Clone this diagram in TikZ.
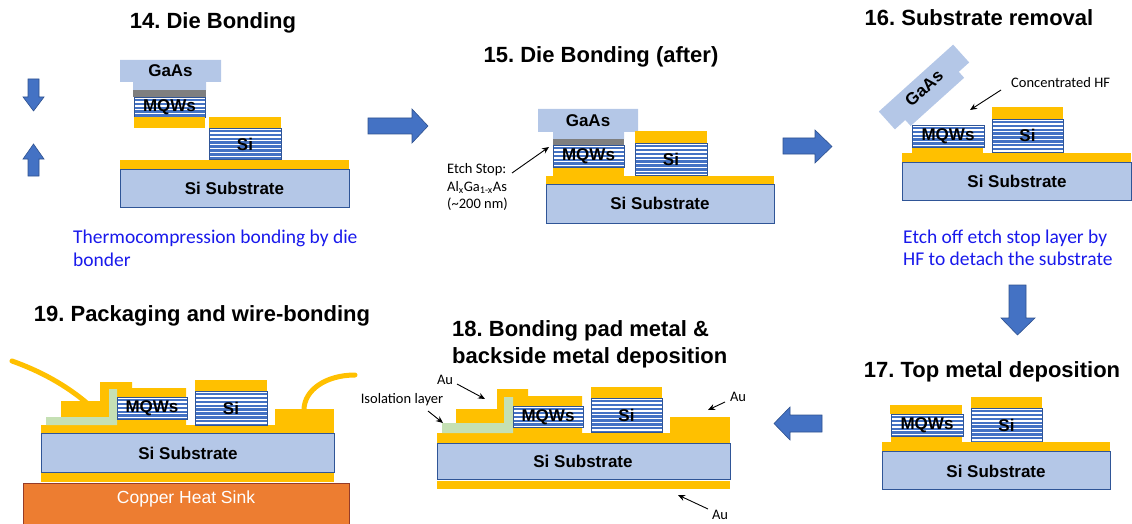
\documentclass[tikz,border=0pt]{standalone}
\usepackage{fontspec}
\setmainfont{Liberation Sans}
\newfontfamily\calibri{Carlito}
\usetikzlibrary{arrows.meta}
\frenchspacing

\definecolor{subblue}{HTML}{B4C7E7}
\definecolor{subedge}{HTML}{2F5597}
\definecolor{gold}{HTML}{FFC000}
\definecolor{etchgray}{HTML}{7F7F7F}
\definecolor{isogreen}{HTML}{C5E0B4}
\definecolor{copper}{HTML}{ED7D31}
\definecolor{copperedge}{RGB}{150,60,40}
\definecolor{flowblue}{HTML}{4472C4}
\definecolor{flowedge}{HTML}{2F528F}
\definecolor{notetext}{RGB}{25,25,235}

% striped quantum-well / Si stack: x1,y1,x2,y2
\newcommand{\qwstack}[4]{%
  \fill[white] (#1,#2) rectangle (#3,#4);
  \begin{scope}
    \clip (#1,#2) rectangle (#3,#4);
    \foreach \k in {0,...,10}{\fill[flowblue] (#1,#2+1.8+3.9*\k) rectangle (#3,#2+4.1+3.9*\k);}
  \end{scope}
  \draw[subedge, line width=0.8pt] (#1,#2) rectangle (#3,#4);}

\tikzset{
  substrate/.style={fill=subblue, draw=subedge, line width=0.7pt},
  metal/.style={fill=gold},
  gaas/.style={fill=subblue},
  iso/.style={fill=isogreen},
  flow/.style={fill=flowblue, draw=flowedge, line width=0.6pt},
  wire/.style={draw=gold, line width=5pt, line cap=round},
  steptitle/.style={font=\fontsize{22}{26}\selectfont\bfseries, inner sep=0pt, anchor=base},
  boxlabel/.style={font=\fontsize{17}{20}\selectfont\bfseries, inner sep=0pt},
  note/.style={font=\calibri\fontsize{19.5}{23}\selectfont, text=notetext, inner sep=0pt, anchor=base west},
  small/.style={font=\calibri\fontsize{14.5}{17}\selectfont, inner sep=0pt},
  pointer/.style={-{Stealth[length=7pt,width=6pt]}, line width=0.9pt, black},
}

\begin{document}
\begin{tikzpicture}[x=1pt, y=-1pt]
\useasboundingbox (0,0) rectangle (1132,524);

% ---------------- 14. Die Bonding ----------------
\node[steptitle] (t14) at (213,29) {14. Die Bonding};
\fill[flow] (28,79) -- (39,79) -- (39,97) -- (44,97) -- (33.5,111) -- (23,97) -- (28,97) -- cycle;
\fill[flow] (28,176) -- (39,176) -- (39,159) -- (44,159) -- (33.5,144) -- (23,159) -- (28,159) -- cycle;
\fill[gaas] (120,60) -- (221,60) -- (221,82) -- (206,82) -- (206,90) -- (133,90) -- (133,82) -- (120,82) -- cycle;
\node[boxlabel] (gaas14) at (170.5,71) {GaAs};
\fill[etchgray] (133,90) rectangle (206,97);
\qwstack{134}{97}{205}{117}
\node[boxlabel] (mqw14) at (169.5,107.5) {MQWs};
\fill[metal] (134,117.5) rectangle (205,128);
\fill[metal] (209,117) rectangle (281,128);
\qwstack{209}{128}{281}{159}
\node[boxlabel] (si14) at (245,144) {Si};
\fill[metal] (120,160) rectangle (349,169);
\draw[substrate] (120,169) rectangle (349,207);
\node[boxlabel] (sub14) at (234.5,188.5) {Si Substrate};
\node[note] (n14a) at (73,243) {Thermocompression bonding by die};
\node[note] (n14b) at (73,266) {bonder};

% flow arrow 14 -> 15
\fill[flow] (368,118) -- (412,118) -- (412,109) -- (428,126) -- (412,143) -- (412,134) -- (368,134) -- cycle;

% ---------------- 15. Die Bonding (after) ----------------
\node[steptitle] (t15) at (601,63) {15. Die Bonding (after)};
\fill[gaas] (538,109) -- (638,109) -- (638,132) -- (624,132) -- (624,139) -- (553,139) -- (553,132) -- (538,132) -- cycle;
\node[boxlabel] (gaas15) at (588,120.5) {GaAs};
\fill[etchgray] (553,139) rectangle (624,145);
\qwstack{553}{145}{624}{167}
\node[boxlabel] (mqw15) at (588.5,156) {MQWs};
\fill[metal] (553,167.5) rectangle (624,177);
\fill[metal] (635,131) rectangle (707,143);
\qwstack{635}{143}{707}{175}
\node[boxlabel] (si15) at (671,159) {Si};
\fill[metal] (546,176) rectangle (774,184);
\draw[substrate] (546,184) rectangle (774,223);
\node[boxlabel] (sub15) at (660,203.5) {Si Substrate};
\node[small, anchor=base west] (es1) at (447,173) {Etch Stop:};
\node[small, anchor=base west] (es2) at (447,191) {Al\textsubscript{x}Ga\textsubscript{1-x}As};
\node[small, anchor=base west] (es3) at (447,208) {(\textasciitilde200 nm)};
\coordinate (es-from) at (512,173);
\coordinate (es-to) at (549,147);
\draw[pointer] (es-from) -- (es-to);

% flow arrow 15 -> 16
\fill[flow] (783,138) -- (815,138) -- (815,130) -- (832,146.5) -- (815,163) -- (815,154) -- (783,154) -- cycle;

% ---------------- 16. Substrate removal ----------------
\node[steptitle] (t16) at (979,26) {16. Substrate removal};
\begin{scope}[shift={(924,87)}, rotate=42]
  \fill[gaas] (-50,-12) -- (50,-12) -- (50,12) -- (36,12) -- (36,20) -- (-36,20) -- (-36,12) -- (-50,12) -- cycle;
\end{scope}
\node[boxlabel, rotate=42] (gaas16) at (924,88) {GaAs};
\fill[metal] (902,153) rectangle (1131,162);
\draw[substrate] (902,162) rectangle (1131,200);
\node[boxlabel] (sub16) at (1017,181.5) {Si Substrate};
\fill[metal] (912,146.5) rectangle (983,153);
\qwstack{912}{125}{984}{147}
\node[boxlabel] (mqw16) at (948,136) {MQWs};
\fill[metal] (992,107) rectangle (1063,119);
\qwstack{992}{119}{1063}{152}
\node[boxlabel] (si16) at (1027.5,135.5) {Si};
\node[small, anchor=base west] (hf) at (1011,88) {Concentrated HF};
\coordinate (hf-from) at (1001,90);
\coordinate (hf-to) at (970,110);
\draw[pointer] (hf-from) -- (hf-to);
\node[note] (n16a) at (903,243) {Etch off etch stop layer by};
\node[note] (n16b) at (903,265) {HF to detach the substrate};

% flow arrow 16 -> 17
\fill[flow] (1009,285) -- (1026,285) -- (1026,318) -- (1035,318) -- (1017.5,335) -- (1001,318) -- (1009,318) -- cycle;

% ---------------- 17. Top metal deposition ----------------
\node[steptitle] (t17) at (992,377) {17. Top metal deposition};
\fill[metal] (890,405) rectangle (962,414);
\fill[metal] (891,436) rectangle (962,443);
\qwstack{891}{414}{963}{436}
\node[boxlabel] (mqw17) at (927,425) {MQWs};
\fill[metal] (971,397) rectangle (1042,408);
\qwstack{971}{408}{1042}{442}
\node[boxlabel] (si17) at (1006.5,425) {Si};
\fill[metal] (882,442) rectangle (1110,451);
\draw[substrate] (882,451) rectangle (1110,489);
\node[boxlabel] (sub17) at (996,471) {Si Substrate};

% flow arrow 17 -> 18
\fill[flow] (822,415) -- (790,415) -- (790,407) -- (774,423.5) -- (790,440) -- (790,432) -- (822,432) -- cycle;

% ---------------- 18. Bonding pad metal & backside metal deposition ----------------
\node[steptitle, anchor=base west] (t18a) at (452,336) {18. Bonding pad metal \&};
\node[steptitle, anchor=base west] (t18b) at (452,363) {backside metal deposition};
\fill[metal] (437,433) rectangle (730,443);
\draw[substrate] (437,443) rectangle (730,479);
\node[boxlabel] (sub18) at (583,461.5) {Si Substrate};
\fill[metal] (437,481) rectangle (730,489);
\fill[metal] (456,433) -- (456,409) -- (497,409) -- (497,389) -- (528,389) -- (528,396) -- (582,396) -- (582,433) -- cycle;
\fill[iso] (442,423) -- (504,423) -- (504,397) -- (513,397) -- (513,433) -- (442,433) -- cycle;
\qwstack{513}{406}{583}{427}
\node[boxlabel] (mqw18) at (548,417) {MQWs};
\fill[metal] (591,387) rectangle (662,398);
\qwstack{591}{398}{662}{432}
\node[boxlabel] (si18) at (626.5,415) {Si};
\fill[metal] (670,417) rectangle (730,433);
\node[small, anchor=base] (au1) at (445,384) {Au};
\coordinate (au1-from) at (457,384);
\coordinate (au1-to) at (485,399);
\draw[pointer] (au1-from) -- (au1-to);
\node[small, anchor=base] (isol) at (402,403) {Isolation layer};
\coordinate (isol-from) at (428,411);
\coordinate (isol-to) at (443,423);
\draw[pointer] (isol-from) -- (isol-to);
\node[small, anchor=base] (au2) at (738,401) {Au};
\coordinate (au2-from) at (725,402);
\coordinate (au2-to) at (708,410);
\draw[pointer] (au2-from) -- (au2-to);
\node[small, anchor=base] (au3) at (720,519) {Au};
\coordinate (au3-from) at (708,509);
\coordinate (au3-to) at (678,495);
\draw[pointer] (au3-from) -- (au3-to);

% ---------------- 19. Packaging and wire-bonding ----------------
\node[steptitle] (t19) at (202,321) {19. Packaging and wire-bonding};
\draw[fill=copper, draw=copperedge, line width=0.7pt] (23,483) rectangle (349,527);
\node[font=\fontsize{17.5}{20}\selectfont, text=white, inner sep=0pt] (cu) at (186,499) {Copper Heat Sink};
\fill[metal] (41,472) rectangle (334,482);
\draw[substrate] (41,433) rectangle (334,472);
\node[boxlabel] (sub19) at (188,453.5) {Si Substrate};
\fill[metal] (41,425) rectangle (334,433);
\fill[metal] (61,425) -- (61,401) -- (100,401) -- (100,382) -- (132,382) -- (132,388) -- (186,388) -- (186,425) -- cycle;
\fill[iso] (46,417) -- (109,417) -- (109,389) -- (117,389) -- (117,425) -- (46,425) -- cycle;
\qwstack{117}{397}{187}{419}
\node[boxlabel] (mqw19) at (152,408) {MQWs};
\fill[metal] (195,380) rectangle (267,391);
\qwstack{195}{391}{267}{425}
\node[boxlabel] (si19) at (231,408) {Si};
\fill[metal] (275,409) rectangle (334,425);
\coordinate (w1a) at (12,361);
\coordinate (w1b) at (88,404);
\draw[wire] (w1a) .. controls (40,371) and (66,385) .. (w1b);
\coordinate (w2a) at (304,410);
\coordinate (w2b) at (355,375);
\draw[wire] (w2a) .. controls (304,390) and (326,375) .. (w2b);
\end{tikzpicture}
\end{document}
